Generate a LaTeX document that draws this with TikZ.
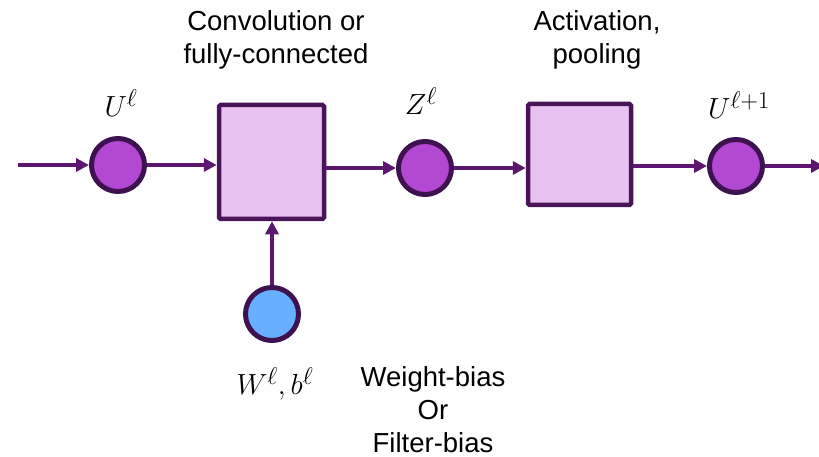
\documentclass[tikz,border=0pt]{standalone}
\usepackage{graphicx}
\usepackage[no-math]{fontspec}
\setmainfont{Liberation Sans}
\usetikzlibrary{arrows.meta}
\definecolor{nodefill}{HTML}{B348D2}
\definecolor{nodeedge}{HTML}{3E1250}
\definecolor{boxfill}{HTML}{E8C2F0}
\definecolor{boxedge}{HTML}{4A1458}
\definecolor{wirecol}{HTML}{5C1670}
\definecolor{paramfill}{HTML}{66B0FF}
\newcommand{\bigmath}[1]{\scalebox{1.17}{\fontsize{24.88}{30}\selectfont$#1$}}
\tikzset{
  dot/.style={circle, draw=nodeedge, fill=nodefill, line width=5pt, minimum size=53pt, inner sep=0pt},
  pdot/.style={dot, fill=paramfill},
  opbox/.style={rectangle, draw=boxedge, fill=boxfill, line width=4.5pt, rounded corners=1.5pt, inner sep=0pt},
  wire/.style={draw=wirecol, line width=4.2pt, -{Triangle[length=13pt,width=13pt]}},
  lbl/.style={font=\fontsize{27.5}{33}\selectfont, align=center, inner sep=0pt},
  mlbl/.style={inner sep=0pt},
}
\begin{document}
\begin{tikzpicture}[x=1pt, y=-1pt]
  \useasboundingbox (0,0) rectangle (819,457);

  % layer blocks
  \node[dot] (u) at (118,165) {};
  \node[opbox, minimum width=105pt, minimum height=114pt] (lin) at (271.5,162) {};
  \node[dot] (z) at (425,168) {};
  \node[opbox, minimum width=103pt, minimum height=101pt] (act) at (579.5,154.5) {};
  \node[dot] (unext) at (736,166) {};
  \node[pdot] (wb) at (272,314) {};

  % signal flow
  \coordinate (in) at (18,165);
  \coordinate (out) at (824,166);
  \draw[wire] (in) -- (u.west);
  \draw[wire] (u.east) -- (u.east -| lin.west);
  \draw[wire] (lin.east |- z.west) -- (z.west);
  \draw[wire] (z.east) -- (z.east -| act.west);
  \draw[wire] (act.east |- unext.west) -- (unext.west);
  \draw[wire] (unext.east) -- (out);
  \draw[wire] (wb.north) -- (wb.north |- lin.south);

  % labels
  \node[mlbl] (lu) at (121,103) {\bigmath{U^{\ell}}};
  \node[mlbl] (lz) at (421,101) {\bigmath{Z^{\ell}}};
  \node[mlbl] (lun) at (739,105) {\bigmath{U^{\ell+1}}};
  \node[mlbl] (lwb) at (275,384) {\bigmath{W^{\ell},b^{\ell}}};
  \node[lbl] (tlin) at (276,40) {Convolution or\\fully-connected};
  \node[lbl] (tact) at (597,40) {Activation,\\pooling};
  \node[lbl] (tpar) at (433,410) {Weight-bias\\Or\\Filter-bias};
\end{tikzpicture}
\end{document}
